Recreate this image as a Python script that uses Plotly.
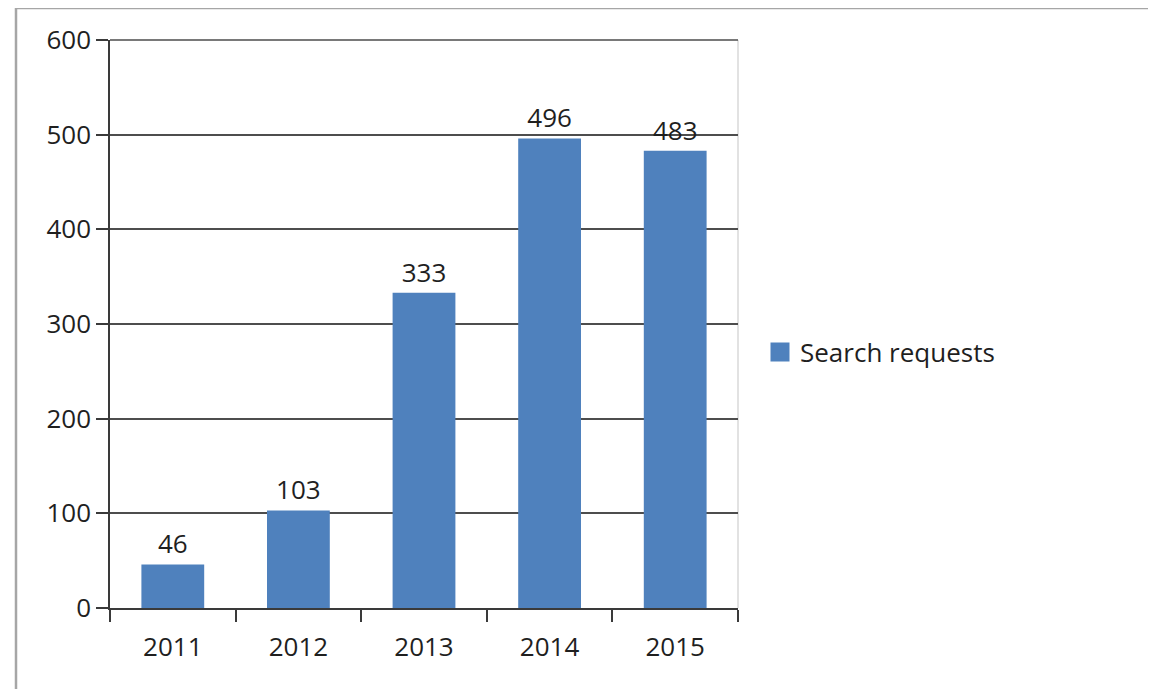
import plotly.graph_objects as go

years = ["2011", "2012", "2013", "2014", "2015"]
search_requests = [46, 103, 333, 496, 483]
series_name = "Search requests"
y_ticks = [0, 100, 200, 300, 400, 500, 600]

BAR_COLOR = "#4F81BD"
TEXT_COLOR = "#1f1f1f"
GRID_COLOR = "#4d4d4d"
FONT = "Open Sans"
FS = 26

OFF = 8  # page body margin
W, H = 1156 - OFF, 689 - OFF
L, R, T, B = 110 - OFF, 738 - OFF, 40 - OFF, 608 - OFF

fig = go.Figure()
fig.add_trace(go.Bar(
    x=years, y=search_requests, name=series_name,
    marker=dict(color=BAR_COLOR, line=dict(width=0)),
    text=[str(v) for v in search_requests], textposition="outside",
    textfont=dict(family=FONT, size=FS, color=TEXT_COLOR),
    cliponaxis=False, showlegend=False,
))
# legend entry (same series) with a larger square swatch
fig.add_trace(go.Scatter(
    x=[None], y=[None], mode="markers", name=series_name,
    marker=dict(symbol="square", size=16, color=BAR_COLOR,
                line=dict(color=BAR_COLOR, width=3)),
    showlegend=True,
))

def px_x(px):
    return (px - OFF - L) / (R - L)

def px_y(py):
    return (B - (py - OFF)) / (B - T)

fig.update_layout(
    width=W, height=H,
    margin=dict(l=L, r=W - R, t=T, b=H - B, pad=0),
    paper_bgcolor="white", plot_bgcolor="white",
    bargap=0.5,
    font=dict(family=FONT, size=FS, color=TEXT_COLOR),
    showlegend=True,
    legend=dict(x=px_x(760), y=px_y(352), xanchor="left", yanchor="middle",
                font=dict(family=FONT, size=FS, color=TEXT_COLOR),
                bgcolor="rgba(0,0,0,0)", itemsizing="trace", itemwidth=30),
    xaxis=dict(
        showgrid=False, showline=True, linecolor="#3a3a3a", linewidth=1.5,
        ticks="outside", tickson="boundaries", ticklen=12, tickwidth=1.5,
        tickcolor="#3a3a3a", tickfont=dict(family=FONT, size=FS, color=TEXT_COLOR),
        ticklabelstandoff=15,
        zeroline=False, fixedrange=True,
    ),
    yaxis=dict(
        range=[0, 600], tickvals=y_ticks,
        showgrid=True, gridcolor=GRID_COLOR, gridwidth=1.5,
        showline=True, linecolor="#3a3a3a", linewidth=1.5,
        ticks="outside", ticklen=12, tickwidth=1.5, tickcolor="#3a3a3a",
        tickfont=dict(family=FONT, size=FS, color=TEXT_COLOR),
        zeroline=False, fixedrange=True,
    ),
    shapes=[
        # light right border of plot area
        dict(type="line", xref="paper", yref="paper", x0=1, x1=1, y0=0, y1=1,
             line=dict(color="#d9d9d9", width=1.5), layer="below"),
        # top edge gridline (plotly clips gridlines at the plot edge)
        dict(type="line", xref="paper", yref="paper", x0=0, x1=1, y0=1, y1=1,
             line=dict(color=GRID_COLOR, width=1.5)),
        # outer frame: top and left
        dict(type="line", xref="paper", yref="paper",
             x0=px_x(15), x1=px_x(1156), y0=px_y(8), y1=px_y(8),
             line=dict(color="#a6a6a6", width=2.5)),
        dict(type="line", xref="paper", yref="paper",
             x0=px_x(16), x1=px_x(16), y0=px_y(8), y1=px_y(689),
             line=dict(color="#a6a6a6", width=2.5)),
    ],
)

fig.write_html("out.html")
